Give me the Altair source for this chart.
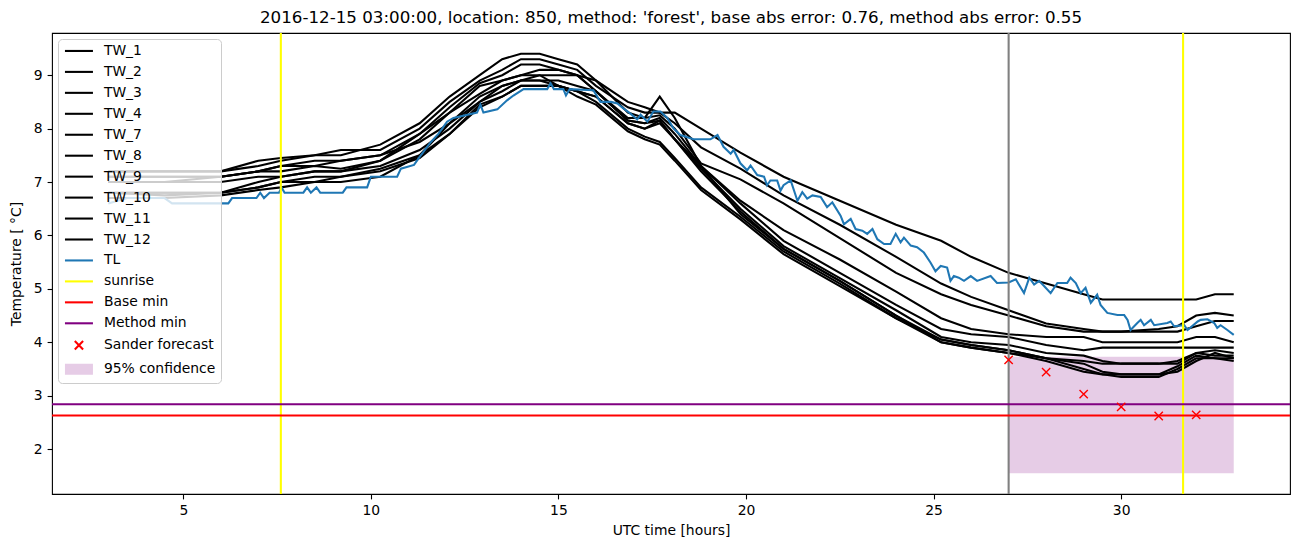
import altair as alt
import pandas as pd

# ---------------- data ----------------
HOURS = [3, 4.5, 6, 7, 7.6, 8.5, 9.2, 10.25, 11.3, 12.1, 12.9, 13.5, 14, 14.5, 15, 15.5, 16,
         16.85, 17.3, 17.7, 18.1, 18.8, 19.85, 21, 22.5, 24, 25.2, 26, 27, 28, 29, 29.5, 30,
         31, 31.5, 32, 32.5, 33]

TW_1 = [7.1, 7.1, 7.1, 7.2, 7.3, 7.3, 7.4, 7.5, 7.75, 8.1, 8.5, 8.8, 8.9, 9.0, 9.0, 9.0, 8.9,
        8.5, 8.4, 8.3, 8.3, 8.0, 7.55, 7.1, 6.65, 6.2, 5.9, 5.6, 5.3, 5.1, 4.9, 4.8, 4.8,
        4.8, 4.8, 4.8, 4.9, 4.9]
TW_2 = [7.2, 7.2, 7.2, 7.4, 7.45, 7.5, 7.6, 7.6, 8.0, 8.5, 8.9, 9.1, 9.3, 9.3, 9.2, 9.1, 8.8,
        8.4, 8.3, 8.3, 8.1, 7.65, 7.25, 6.75, 6.2, 5.6, 5.1, 4.85, 4.6, 4.35, 4.25, 4.2, 4.2,
        4.25, 4.3, 4.5, 4.55, 4.5]
TW_3 = [7.2, 7.2, 7.2, 7.3, 7.4, 7.5, 7.5, 7.7, 8.1, 8.6, 9.0, 9.3, 9.4, 9.4, 9.3, 9.2, 8.9,
        8.3, 8.2, 8.25, 8.0, 7.35, 7.05, 6.6, 5.95, 5.3, 4.9, 4.7, 4.5, 4.3, 4.2, 4.2, 4.2,
        4.2, 4.2, 4.3, 4.4, 4.4]
TW_4 = [7.0, 7.0, 7.1, 7.2, 7.2, 7.3, 7.25, 7.4, 7.9, 8.3, 8.65, 8.9, 9.0, 9.1, 9.1, 9.0, 8.7,
        8.2, 8.2, 8.6, 8.2, 7.3, 6.65, 6.1, 5.55, 4.95, 4.45, 4.25, 4.15, 4.1, 4.1, 4.0, 4.0,
        4.0, 4.0, 4.1, 4.1, 4.0]
TW_7 = [6.8, 6.8, 6.8, 7.0, 7.1, 7.2, 7.2, 7.3, 7.6, 8.0, 8.5, 8.7, 8.9, 8.9, 8.9, 8.8, 8.7,
        8.15, 8.1, 8.2, 7.9, 7.3, 6.6, 5.9, 5.3, 4.7, 4.25, 4.15, 4.1, 3.95, 3.85, 3.9, 3.9,
        3.9, 3.9, 3.9, 3.9, 3.9]
TW_8 = [6.8, 6.8, 6.8, 6.9, 7.0, 7.1, 7.1, 7.25, 7.5, 7.9, 8.45, 8.6, 8.8, 8.8, 8.8, 8.7, 8.6,
        8.1, 8.0, 8.15, 7.8, 7.25, 6.5, 5.8, 5.2, 4.6, 4.1, 4.0, 3.95, 3.8, 3.75, 3.65, 3.6,
        3.6, 3.65, 3.8, 3.75, 3.75]
TW_9 = [6.8, 6.75, 6.8, 6.9, 7.0, 7.0, 7.1, 7.2, 7.45, 7.9, 8.4, 8.6, 8.8, 8.8, 8.8, 8.7, 8.6,
        8.1, 8.0, 8.1, 7.8, 7.2, 6.45, 5.75, 5.15, 4.5, 4.05, 3.95, 3.85, 3.7, 3.6, 3.45, 3.4,
        3.4, 3.55, 3.75, 3.7, 3.7]
TW_10 = [7.1, 7.1, 7.1, 7.2, 7.3, 7.4, 7.4, 7.5, 7.9, 8.4, 8.85, 9.0, 9.2, 9.2, 9.1, 9.0, 8.7,
         8.15, 8.1, 8.15, 7.8, 7.3, 6.4, 5.75, 5.15, 4.5, 4.0, 3.9, 3.8, 3.7, 3.5, 3.4, 3.35,
         3.35, 3.5, 3.7, 3.7, 3.65]
TW_11 = [7.0, 7.0, 7.0, 7.1, 7.1, 7.2, 7.2, 7.4, 7.8, 8.3, 8.8, 8.9, 9.0, 9.0, 8.8, 8.7, 8.5,
         8.0, 7.85, 7.75, 7.45, 6.9, 6.35, 5.7, 5.1, 4.45, 4.0, 3.9, 3.8, 3.65, 3.45, 3.4, 3.4,
         3.4, 3.45, 3.65, 3.8, 3.7]
TW_12 = [6.7, 6.7, 6.75, 6.85, 6.9, 7.0, 7.0, 7.1, 7.5, 8.1, 8.6, 8.8, 8.9, 8.9, 8.8, 8.6, 8.45,
         7.95, 7.8, 7.7, 7.4, 6.85, 6.3, 5.65, 5.05, 4.45, 4.05, 3.95, 3.85, 3.7, 3.65, 3.6, 3.6,
         3.6, 3.6, 3.8, 3.85, 3.8]

TL_HOURS = [3.0, 3.5, 4.5, 4.7, 6.2, 6.3, 6.95, 7.05, 7.15, 7.3, 7.55, 7.62, 7.7, 8.2, 8.3, 8.4,
            8.55, 8.65, 9.25, 9.35, 9.9, 10.0, 10.7, 10.8, 11.15, 11.3, 11.6, 11.8, 12.03, 12.2,
            12.83, 12.92, 13.0, 13.37, 13.63, 13.8, 14.07, 14.7, 14.79, 14.88, 15.13, 15.2,
            15.3, 15.93, 16.12, 16.4, 16.57, 16.73, 16.92, 17.1, 17.19, 17.37, 17.53, 17.72,
            17.9, 18.07, 18.25, 18.6, 19.05, 19.24, 19.4, 19.59, 19.67, 19.85, 20.03, 20.12,
            20.3, 20.48, 20.56, 20.65, 20.83, 20.92, 21.0, 21.19, 21.37, 21.5, 21.63, 21.77,
            21.99, 22.16, 22.3, 22.52, 22.61, 22.79, 22.92, 23.1, 23.23, 23.37, 23.5, 23.68,
            23.85, 23.99, 24.12, 24.21, 24.39, 24.56, 24.74, 24.92, 25.05, 25.19, 25.36, 25.45,
            25.54, 25.67, 25.81, 25.99, 26.16, 26.52, 26.69, 27.0, 27.19, 27.41, 27.55, 27.68,
            27.81, 27.95, 28.12, 28.3, 28.56, 28.65, 28.79, 28.92, 29.05, 29.19, 29.36, 29.45,
            29.63, 29.9, 30.08, 30.17, 30.25, 30.43, 30.52, 30.61, 30.79, 30.88, 31.23, 31.32,
            31.41, 31.68, 31.77, 32.04, 32.12, 32.3, 32.48, 32.56, 32.65, 32.83, 33.0]
TL_TEMP = [6.6, 6.7, 6.7, 6.6, 6.6, 6.7, 6.7, 6.8, 6.7, 6.8, 6.8, 6.9, 6.8, 6.8, 6.9, 6.8,
           6.9, 6.8, 6.8, 6.9, 6.9, 7.1, 7.1, 7.25, 7.32, 7.47, 7.75, 7.9, 8.13, 8.2,
           8.3, 8.45, 8.3, 8.36, 8.53, 8.62, 8.74, 8.74, 8.85, 8.74, 8.74, 8.62,
           8.74, 8.72, 8.5, 8.5, 8.47, 8.38, 8.28, 8.17, 8.26, 8.13, 8.32, 8.32,
           8.2, 8.0, 7.88, 7.8, 7.8, 7.88, 7.66, 7.53, 7.6, 7.35, 7.22, 7.31,
           7.13, 7.1, 6.94, 7.03, 7.03, 6.84, 6.94, 7.03, 6.65, 6.81, 6.69, 6.75,
           6.72, 6.53, 6.62, 6.37, 6.21, 6.31, 6.12, 6.09, 6.03, 6.12, 5.93, 5.84,
           5.84, 6.03, 5.87, 5.96, 5.81, 5.78, 5.68, 5.49, 5.33, 5.43, 5.40, 5.15,
           5.24, 5.21, 5.15, 5.24, 5.15, 5.24, 5.11, 5.12, 5.18, 4.92, 5.21, 5.08,
           5.15, 5.05, 4.92, 5.11, 5.11, 5.21, 5.11, 4.92, 5.02, 4.74, 4.89, 4.70,
           4.55, 4.51, 4.51, 4.42, 4.23, 4.36, 4.42, 4.32, 4.42, 4.32, 4.36, 4.39,
           4.30, 4.32, 4.23, 4.39, 4.42, 4.43, 4.36, 4.27, 4.32, 4.23, 4.14]

SUNRISE = [7.6, 31.65]
FORECAST_START = [27.0]
BASE_MIN = [2.63]
METHOD_MIN = [2.84]
SANDER_HOURS = [27, 28, 29, 30, 31, 32]
SANDER_TEMP = [3.67, 3.44, 3.03, 2.79, 2.62, 2.64]
CONF_HOURS = [27, 33]
CONF_LOW = [1.55, 1.55]
CONF_HIGH = [3.73, 3.73]

TW_NAMES = ["TW_1", "TW_2", "TW_3", "TW_4", "TW_7", "TW_8", "TW_9", "TW_10", "TW_11", "TW_12"]
TW_SERIES = [TW_1, TW_2, TW_3, TW_4, TW_7, TW_8, TW_9, TW_10, TW_11, TW_12]
LEGEND_LABELS = TW_NAMES + ["TL", "sunrise", "Base min", "Method min", "Sander forecast",
                            "95% confidence"]
X_TICKS = [5, 10, 15, 20, 25, 30]
Y_TICKS = [2, 3, 4, 5, 6, 7, 8, 9]

TITLE = ("2016-12-15 03:00:00, location: 850, method: 'forest', "
         "base abs error: 0.76, method abs error: 0.55")

# ---------------- tables ----------------
tw_df = pd.DataFrame([
    {"series": n, "hour": h, "temp": v}
    for n, vals in zip(TW_NAMES, TW_SERIES)
    for h, v in zip(HOURS, vals)
])
tl_df = pd.DataFrame({"hour": TL_HOURS, "temp": TL_TEMP})
sun_df = pd.DataFrame({"hour": SUNRISE})
fs_df = pd.DataFrame({"hour": FORECAST_START})
base_df = pd.DataFrame({"temp": BASE_MIN})
meth_df = pd.DataFrame({"temp": METHOD_MIN})
sander_df = pd.DataFrame({"hour": SANDER_HOURS, "temp": SANDER_TEMP})
conf_df = pd.DataFrame({"hour": CONF_HOURS, "lo": CONF_LOW, "hi": CONF_HIGH})
leg_df = pd.DataFrame({"label": LEGEND_LABELS})

# ---------------- styling ----------------
FONT = "DejaVu Sans"
LW = 2.08
xscale = alt.Scale(domain=[1.5, 34.5], nice=False, zero=False)
yscale = alt.Scale(domain=[1.16, 9.79], nice=False, zero=False)
xaxis = alt.Axis(values=X_TICKS, title="UTC time [hours]", titlePadding=6)
yaxis = alt.Axis(values=Y_TICKS, title="Temperature [ °C]", titlePadding=10)


def X(field="hour"):
    return alt.X(f"{field}:Q", scale=xscale, axis=xaxis)


def Y(field="temp"):
    return alt.Y(f"{field}:Q", scale=yscale, axis=yaxis)


LINE_PATH = "M-2.8,0H2.8"
X_PATH_LEG = "M-0.83,-0.83L0.83,0.83M0.83,-0.83L-0.83,0.83"
RECT_PATH = "".join(f"M-2.8,{y:.1f}H2.8" for y in [-0.9, -0.7, -0.5, -0.3, -0.1, 0.1, 0.3, 0.5, 0.7, 0.9])
X_PATH = "M-1,-1L1,1M1,-1L-1,1"

LEG_COLORS = ["black"] * 10 + ["#1f77b4", "#ffff00", "#ff0000", "#800080", "#ff0000", "#e6cce6"]
LEG_SHAPES = [LINE_PATH] * 14 + [X_PATH_LEG, RECT_PATH]

conf = alt.Chart(conf_df).mark_area(color="#800080", opacity=0.2).encode(
    x=X(), y=Y("lo"), y2="hi:Q")
tw = alt.Chart(tw_df).mark_line(color="black", strokeWidth=LW).encode(
    x=X(), y=Y(), detail="series:N")
tl = alt.Chart(tl_df).mark_line(color="#1f77b4", strokeWidth=LW).encode(x=X(), y=Y())
sun = alt.Chart(sun_df).mark_rule(color="#ffff00", strokeWidth=LW).encode(x=X())
fs = alt.Chart(fs_df).mark_rule(color="#808080", strokeWidth=LW).encode(x=X())
base = alt.Chart(base_df).mark_rule(color="#ff0000", strokeWidth=LW).encode(y=Y())
meth = alt.Chart(meth_df).mark_rule(color="#800080", strokeWidth=LW).encode(y=Y())
sander = alt.Chart(sander_df).mark_point(
    shape=X_PATH, color="#ff0000", size=69, strokeWidth=1.4, filled=False, opacity=1
).encode(x=X(), y=Y())

legend = alt.Legend(
    title=None, orient="top-left", offset=6, padding=5, rowPadding=5.95,
    fillColor="rgba(255,255,255,0.8)", strokeColor="#cccccc", cornerRadius=4,
    labelFont=FONT, labelFontSize=13.9, labelColor="black",
    symbolSize=100, symbolStrokeWidth=LW, symbolOffset=9, labelOffset=18,
    symbolOpacity=1, labelLimit=0,
)
leg = alt.Chart(leg_df).transform_filter("false").mark_point(filled=False).encode(
    color=alt.Color("label:N", scale=alt.Scale(domain=LEGEND_LABELS, range=LEG_COLORS),
                    legend=legend),
    shape=alt.Shape("label:N", scale=alt.Scale(domain=LEGEND_LABELS, range=LEG_SHAPES),
                    legend=legend),
)

chart = alt.layer(conf, tw, tl, sun, fs, base, meth, sander, leg).properties(
    width=1238, height=461,
    padding={"left": 44, "top": 25, "right": 4, "bottom": 45},
    autosize=alt.AutoSizeParams(type="none"),
    title=alt.Title(TITLE),
).configure_view(
    stroke="black", strokeWidth=1.1
).configure_axis(
    domain=False, grid=False, labelFont=FONT, labelFontSize=13.9, labelColor="black",
    tickColor="black", tickSize=4.9, tickWidth=1.1, labelPadding=4.9,
    titleFont=FONT, titleFontSize=13.9, titleFontWeight="normal", titleColor="black",
).configure_title(
    font=FONT, fontSize=16.7, fontWeight="normal", color="black", anchor="middle", offset=5
)

chart.save("out.html", embed_options={"renderer": "svg", "actions": False})
